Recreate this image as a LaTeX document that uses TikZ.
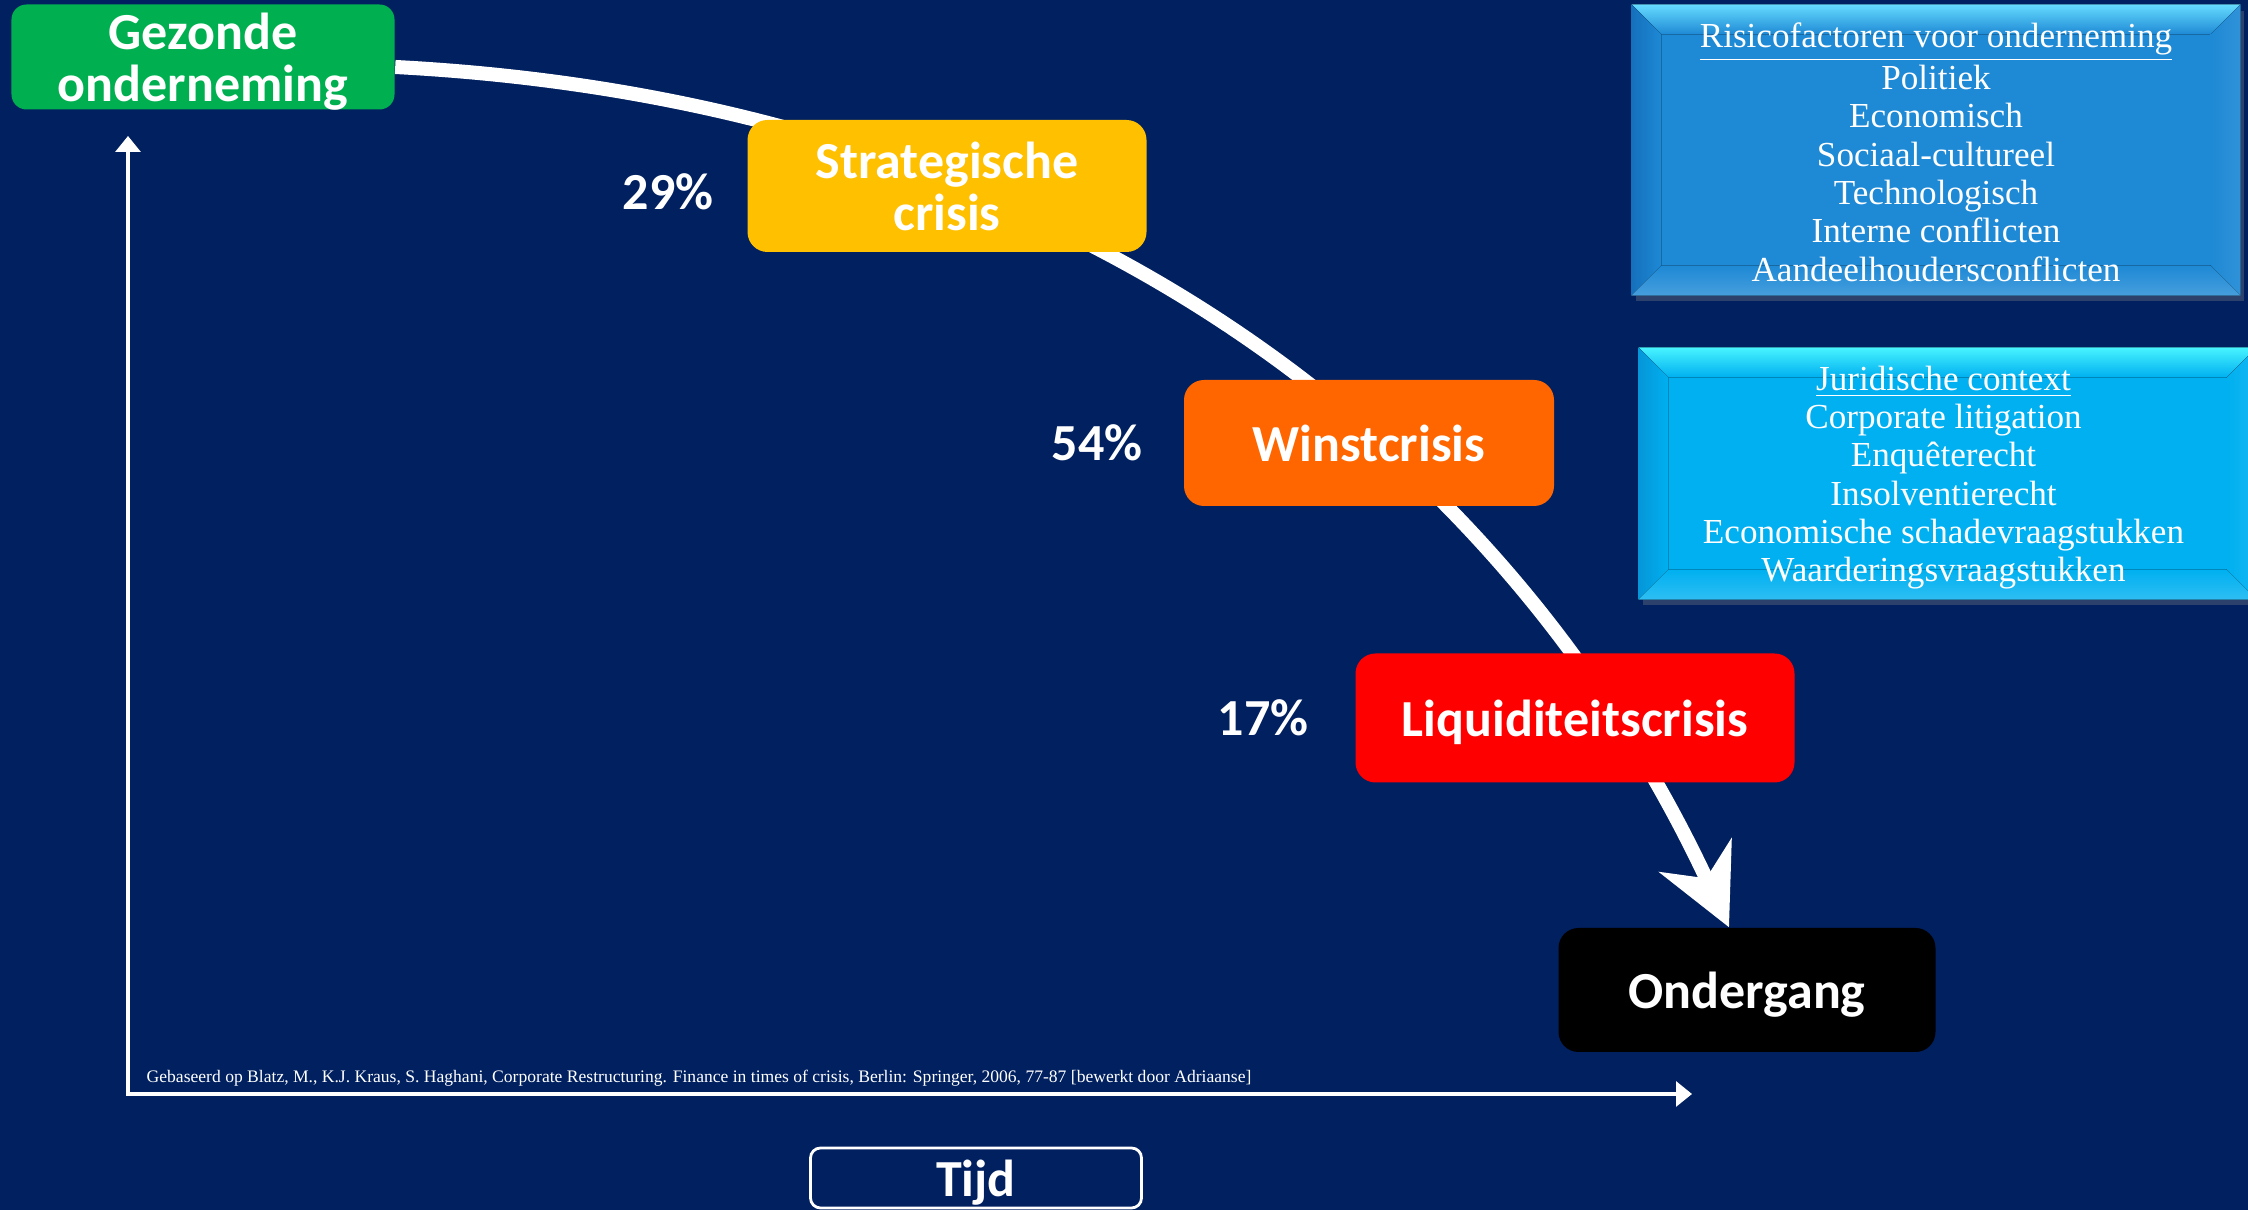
\documentclass[tikz,border=0pt]{standalone}
\usepackage{fontspec}
\setmainfont{Carlito}
\newfontfamily\serifbox{Liberation Serif}
\usetikzlibrary{arrows.meta,backgrounds,shadows}

\definecolor{navy}{HTML}{002060}
\definecolor{gezond}{HTML}{00B050}
\definecolor{strat}{HTML}{FFC000}
\definecolor{winst}{HTML}{FF6600}
\definecolor{liq}{HTML}{FF0000}
\definecolor{risblauw}{HTML}{1E89D5}
\definecolor{rislicht}{HTML}{66DCFF}
\definecolor{risdonker}{HTML}{1570BC}
\definecolor{jurblauw}{HTML}{00B0F0}
\definecolor{jurlicht}{HTML}{48F4FF}
\definecolor{jurdonker}{HTML}{0596D8}

\tikzset{
  phase/.style={rounded corners=2mm, inner sep=0pt, text=white, text depth=0pt,
    font=\fontsize{14.8}{14.8}\selectfont\bfseries, align=center},
  perc/.style={text=white, font=\fontsize{14.8}{14.2}\selectfont\bfseries},
  infobox/.style={inner sep=0pt, drop shadow={shadow xshift=0.04cm, shadow yshift=-0.06cm, opacity=0.35}},
  infotext/.style={inner sep=0pt, text=white, font=\fontsize{10}{10.9}\selectfont\serifbox, align=center},
}

\begin{document}
\begin{tikzpicture}
  \begin{scope}[on background layer]
    \fill[navy] (0,0) rectangle (22.48,12.10);
  \end{scope}
  \useasboundingbox (0,0) rectangle (22.48,12.10);
  \clip (0,0) rectangle (22.48,12.10);

  % fasen van de onderneming
  \node[phase, fill=gezond, minimum width=3.83cm, minimum height=1.05cm, rounded corners=1.5mm] (gezond) at (2.03,11.53) {Gezonde\\onderneming};
  \node[phase, fill=strat, minimum width=3.99cm, minimum height=1.32cm] (strat) at (9.47,10.24) {Strategische\\crisis};
  \node[phase, fill=winst, minimum width=3.70cm, minimum height=1.26cm] (winst) at (13.69,7.67) {Winstcrisis};
  \node[phase, fill=liq, minimum width=4.39cm, minimum height=1.29cm] (liq) at (15.75,4.92) {Liquiditeitscrisis};
  \node[phase, fill=black, minimum width=3.77cm, minimum height=1.24cm] (ondergang) at (17.47,2.20) {Ondergang};

  \node[perc] (p29) at (6.68,10.18) {29\%};
  \node[perc] (p54) at (10.97,7.67) {54\%};
  \node[perc] (p17) at (12.63,4.92) {17\%};

  % de boog achter de vakken
  \begin{scope}[on background layer]
    \draw[white, line width=4pt, -{Stealth[length=7.9mm,width=7.9mm,inset=2.5mm]}]
      ([yshift=-0.1cm]gezond.east) .. controls +(-3:7) and +(115:5) .. ([xshift=-0.18cm]ondergang.north);
  \end{scope}

  % assen
  \coordinate (oorsprong) at (1.28,1.16);
  \coordinate (ytop) at (1.28,10.74);
  \coordinate (xeind) at (16.92,1.16);
  \draw[white, line width=0.9pt, {Triangle[length=1.6mm,width=2.5mm]}-{Triangle[length=1.6mm,width=2.5mm]}] (ytop) -- (oorsprong) -- (xeind);
  \node[anchor=base west, text=white, inner sep=0pt, font=\fontsize{5}{5.2}\selectfont\serifbox] (bron) at (1.46,1.27)
    {Gebaseerd op Blatz, M., K.J. Kraus, S. Haghani, Corporate Restructuring. Finance in times of crisis, Berlin: Springer, 2006, 77-87 [bewerkt door Adriaanse]};
  \node[draw=white, line width=0.8pt, rounded corners=1mm, minimum width=3.31cm, minimum height=0.60cm, inner sep=0pt,
    text=white, text depth=0pt, font=\fontsize{14.8}{14.2}\selectfont\bfseries] (tijd) at (9.76,0.32) {Tijd};

  % risicofactoren
  \node[infobox, fill=risblauw, minimum width=6.08cm, minimum height=2.90cm] (risico) at (19.36,10.60) {};
  \fill[top color=rislicht, bottom color=risblauw] (risico.north west) -- (risico.north east) -- ([shift={(-0.3,-0.3)}]risico.north east) -- ([shift={(0.3,-0.3)}]risico.north west) -- cycle;
  \fill[left color=risdonker, right color=risblauw] (risico.north west) -- ([shift={(0.3,-0.3)}]risico.north west) -- ([shift={(0.3,0.3)}]risico.south west) -- (risico.south west) -- cycle;
  \fill[left color=risblauw, right color=risblauw!92!white] (risico.north east) -- ([shift={(-0.3,-0.3)}]risico.north east) -- ([shift={(-0.3,0.3)}]risico.south east) -- (risico.south east) -- cycle;
  \fill[top color=risblauw, bottom color=risblauw!82!white] (risico.south west) -- ([shift={(0.3,0.3)}]risico.south west) -- ([shift={(-0.3,0.3)}]risico.south east) -- (risico.south east) -- cycle;
  \node[infotext] (risicotekst) at ([yshift=-0.02cm]risico.center) {\underline{Risicofactoren voor onderneming}\\Politiek\\Economisch\\Sociaal-cultureel\\Technologisch\\Interne conflicten\\Aandeelhoudersconflicten};

  % juridische context
  \node[infobox, fill=jurblauw, minimum width=6.17cm, minimum height=2.51cm] (jur) at (19.475,7.365) {};
  \fill[top color=jurlicht, bottom color=jurblauw] (jur.north west) -- (jur.north east) -- ([shift={(-0.3,-0.3)}]jur.north east) -- ([shift={(0.3,-0.3)}]jur.north west) -- cycle;
  \fill[left color=jurdonker, right color=jurblauw] (jur.north west) -- ([shift={(0.3,-0.3)}]jur.north west) -- ([shift={(0.3,0.3)}]jur.south west) -- (jur.south west) -- cycle;
  \fill[left color=jurblauw, right color=jurblauw!92!white] (jur.north east) -- ([shift={(-0.3,-0.3)}]jur.north east) -- ([shift={(-0.3,0.3)}]jur.south east) -- (jur.south east) -- cycle;
  \fill[top color=jurblauw, bottom color=jurblauw!82!white] (jur.south west) -- ([shift={(0.3,0.3)}]jur.south west) -- ([shift={(-0.3,0.3)}]jur.south east) -- (jur.south east) -- cycle;
  \node[infotext] (jurtekst) at ([shift={(-0.04,-0.04)}]jur.center) {\underline{Juridische context}\\Corporate litigation\\Enquêterecht\\Insolventierecht\\Economische schadevraagstukken\\Waarderingsvraagstukken};
\end{tikzpicture}
\end{document}
